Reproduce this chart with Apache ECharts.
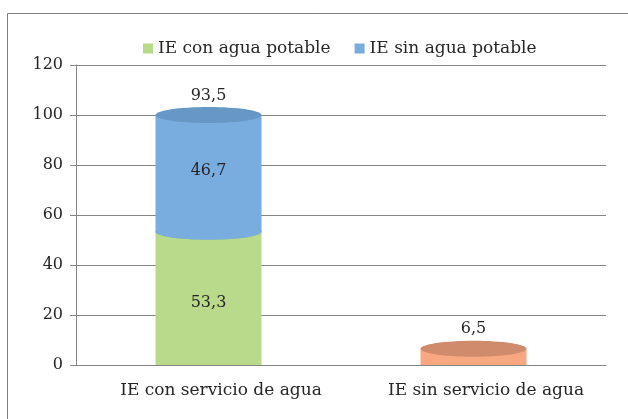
<!DOCTYPE html>
<html>
<head>
<meta charset="utf-8">
<script src="https://cdn.jsdelivr.net/npm/echarts@6/dist/echarts.min.js"></script>
<style>
  html, body { margin: 0; padding: 0; background: #fff; }
  #chart { width: 628px; height: 419px; }
</style>
</head>
<body>
<div id="chart"></div>
<script>
const categories = ['IE con servicio de agua', 'IE sin servicio de agua']
const conAguaPotable = [53.3, null]
const sinAguaPotable = [46.7, null]
const sinServicio = [null, 6.5]
const topNotes = [93.5, null]
const yTicks = [0, 20, 40, 60, 80, 100, 120]

const FONT = 'DejaVu Serif'
const fmt = (v) => v.toFixed(1).replace('.', ',')

// cilindro: cuerpo + tapa superior, opcionalmente curva inferior sobre el tramo anterior
function cylinder(side, top, opts) {
  return function (params, api) {
    const cat = api.value(0)
    const low = api.value(1)
    const high = api.value(2)
    const pLow = api.coord([cat, low])
    const pHigh = api.coord([cat, high])
    const w = api.size([1, 0])[0] * 0.4
    const rx = w / 2
    const ry = 8
    const cx = pLow[0]
    const children = [
      { type: 'rect', shape: { x: cx - rx, y: pHigh[1], width: w, height: pLow[1] - pHigh[1] }, style: { fill: side } }
    ]
    if (opts.bottomCurve) {
      children.push({ type: 'ellipse', shape: { cx: cx, cy: pLow[1], rx: rx, ry: ry }, style: { fill: side } })
    }
    children.push({ type: 'ellipse', shape: { cx: cx, cy: pHigh[1], rx: rx, ry: ry }, style: { fill: top } })
    const labelY = opts.labelTop ? pHigh[1] - 20 : (pLow[1] + pHigh[1]) / 2 + (opts.dy || 0)
    children.push({
      type: 'text',
      style: { x: cx, y: labelY, text: fmt(high - low), fill: '#262626', font: '16px "' + FONT + '"', align: 'center', verticalAlign: 'middle' }
    })
    const note = topNotes[cat]
    if (opts.notes && note != null) {
      children.push({
        type: 'text',
        style: { x: cx, y: pHigh[1] - 19, text: fmt(note), fill: '#262626', font: '16px "' + FONT + '"', align: 'center', verticalAlign: 'middle' }
      })
    }
    return { type: 'group', children: children }
  }
}

const greenData = []
const blueData = []
const orangeData = []
categories.forEach((c, i) => {
  if (conAguaPotable[i] != null) greenData.push([i, 0, conAguaPotable[i]])
  if (sinAguaPotable[i] != null) blueData.push([i, conAguaPotable[i] || 0, (conAguaPotable[i] || 0) + sinAguaPotable[i]])
  if (sinServicio[i] != null) orangeData.push([i, 0, sinServicio[i]])
})

const chart = echarts.init(document.getElementById('chart'))
chart.setOption({
  animation: false,
  backgroundColor: '#fff',
  graphic: [
    { type: 'rect', shape: { x: 7.5, y: 13.5, width: 700, height: 500 }, style: { fill: 'none', stroke: '#7f7f7f', lineWidth: 1 } }
  ],
  legend: {
    top: 35,
    left: 138,
    icon: 'rect',
    itemWidth: 10,
    itemHeight: 10,
    itemGap: 24,
    data: ['IE con agua potable', 'IE sin agua potable'],
    textStyle: { fontFamily: FONT, fontSize: 17, color: '#262626' }
  },
  grid: { left: 76, right: 22, top: 65, bottom: 54 },
  xAxis: {
    type: 'category',
    data: categories,
    axisLine: { lineStyle: { color: '#858585' } },
    axisTick: { length: 5, lineStyle: { color: '#858585' } },
    axisLabel: { fontFamily: FONT, fontSize: 17, color: '#262626', margin: 17, padding: [0, 0, 0, 25] }
  },
  yAxis: {
    type: 'value',
    min: yTicks[0],
    max: yTicks[yTicks.length - 1],
    interval: 20,
    axisLine: { show: true, lineStyle: { color: '#858585' } },
    axisTick: { show: true, length: 6, lineStyle: { color: '#858585' } },
    splitLine: { lineStyle: { color: '#858585' } },
    axisLabel: { fontFamily: FONT, fontSize: 16, color: '#262626', margin: 13 }
  },
  series: [
    {
      name: 'IE con agua potable',
      type: 'custom',
      itemStyle: { color: '#b9d98b' },
      encode: { x: 0, y: [1, 2] },
      renderItem: cylinder('#b9d98b', '#a3c778', { dy: 4 }),
      data: greenData,
      z: 2
    },
    {
      name: 'IE sin agua potable',
      type: 'custom',
      itemStyle: { color: '#79acdf' },
      encode: { x: 0, y: [1, 2] },
      renderItem: cylinder('#79acdf', '#6797c4', { bottomCurve: true, notes: true, dy: -3 }),
      data: blueData,
      z: 3
    },
    {
      name: 'IE sin servicio',
      type: 'custom',
      itemStyle: { color: '#f8a880' },
      encode: { x: 0, y: [1, 2] },
      renderItem: cylinder('#f8a880', '#cf8b6b', { labelTop: true }),
      data: orangeData,
      z: 2
    }
  ]
})
</script>
</body>
</html>
